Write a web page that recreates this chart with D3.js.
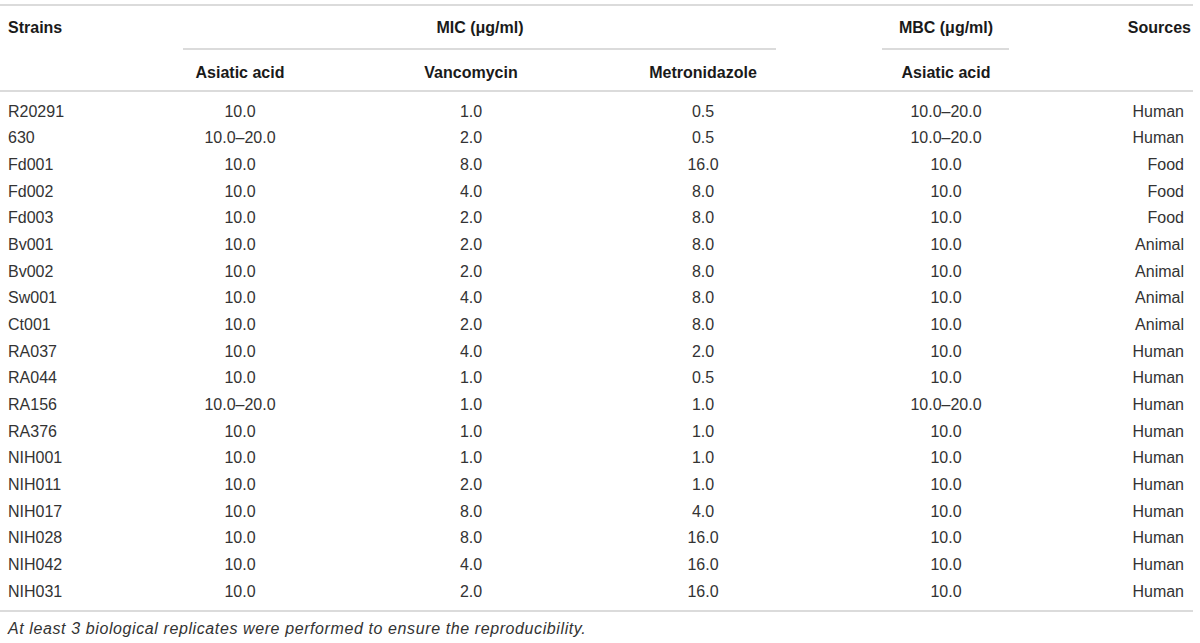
<!DOCTYPE html>
<html>
<head>
<meta charset="utf-8">
<script src="https://cdn.jsdelivr.net/npm/d3@7"></script>
<style>
  body { margin: 0; background: #fff; }
  svg text { font-family: "Liberation Sans", Arial, Helvetica, sans-serif; }
</style>
</head>
<body>
<svg id="table"></svg>
<script>
// table data
const strains = ["R20291", "630", "Fd001", "Fd002", "Fd003", "Bv001", "Bv002", "Sw001", "Ct001",
  "RA037", "RA044", "RA156", "RA376", "NIH001", "NIH011", "NIH017", "NIH028", "NIH042", "NIH031"];
const micAsiatic = ["10.0", "10.0–20.0", "10.0", "10.0", "10.0", "10.0", "10.0", "10.0", "10.0",
  "10.0", "10.0", "10.0–20.0", "10.0", "10.0", "10.0", "10.0", "10.0", "10.0", "10.0"];
const micVancomycin = ["1.0", "2.0", "8.0", "4.0", "2.0", "2.0", "2.0", "4.0", "2.0",
  "4.0", "1.0", "1.0", "1.0", "1.0", "2.0", "8.0", "8.0", "4.0", "2.0"];
const micMetronidazole = ["0.5", "0.5", "16.0", "8.0", "8.0", "8.0", "8.0", "8.0", "8.0",
  "2.0", "0.5", "1.0", "1.0", "1.0", "1.0", "4.0", "16.0", "16.0", "16.0"];
const mbcAsiatic = ["10.0–20.0", "10.0–20.0", "10.0", "10.0", "10.0", "10.0", "10.0", "10.0", "10.0",
  "10.0", "10.0", "10.0–20.0", "10.0", "10.0", "10.0", "10.0", "10.0", "10.0", "10.0"];
const sources = ["Human", "Human", "Food", "Food", "Food", "Animal", "Animal", "Animal", "Animal",
  "Human", "Human", "Human", "Human", "Human", "Human", "Human", "Human", "Human", "Human"];

const columns = ["Strains", "Asiatic acid", "Vancomycin", "Metronidazole", "MBC Asiatic acid", "Sources"];
const groupHeaders = ["MIC (\u03bcg/ml)", "MBC (\u03bcg/ml)"];
const footnote = "At least 3 biological replicates were performed to ensure the reproducibility.";

const width = 1200;
const height = 643;
const lineColor = "#cfcfcf";
const fontSize = 16;

const svg = d3.select("#table")
    .attr("width", width)
    .attr("height", height);

// rows
const y = d3.scaleBand()
    .domain(strains)
    .range([97.7, 604.3]);

// column anchors
const x = d3.scaleOrdinal()
    .domain(columns)
    .range([8, 240, 471, 703, 946, 1184]);

const anchor = d3.scaleOrdinal()
    .domain(columns)
    .range(["start", "middle", "middle", "middle", "middle", "end"]);

const rows = strains.map((s, i) => [s, micAsiatic[i], micVancomycin[i], micMetronidazole[i], mbcAsiatic[i], sources[i]]);

// horizontal rules
const hline = (y0, x0, x1) => svg.append("line")
    .attr("x1", x0).attr("x2", x1)
    .attr("y1", y0).attr("y2", y0)
    .attr("stroke", lineColor)
    .attr("stroke-width", 1.6);

hline(5, 0, 1193);
hline(91, 0, 1193);
hline(611, 0, 1193);
hline(49, 183, 776);
hline(49, 882, 1009);

// header row 1
const header = svg.append("g")
    .attr("font-size", fontSize)
    .attr("font-weight", "bold")
    .attr("fill", "#1a1a1a");

header.append("text").attr("x", x("Strains")).attr("y", 27).attr("dy", "0.35em")
    .attr("text-anchor", "start").text("Strains");
header.append("text").attr("x", 480).attr("y", 27).attr("dy", "0.35em")
    .attr("text-anchor", "middle").text(groupHeaders[0]);
header.append("text").attr("x", x("MBC Asiatic acid")).attr("y", 27).attr("dy", "0.35em")
    .attr("text-anchor", "middle").text(groupHeaders[1]);
header.append("text").attr("x", 1191).attr("y", 27).attr("dy", "0.35em")
    .attr("text-anchor", "end").text("Sources");

// header row 2
header.selectAll("text.sub")
    .data(columns.slice(1, 5))
    .enter()
    .append("text")
    .attr("class", "sub")
    .attr("x", c => x(c))
    .attr("y", 72)
    .attr("dy", "0.35em")
    .attr("text-anchor", "middle")
    .text(c => c.replace("MBC ", ""));

// body
const body = svg.append("g")
    .attr("font-size", fontSize)
    .attr("fill", "#333");

const row = body.selectAll("g")
    .data(rows)
    .enter()
    .append("g")
    .attr("transform", d => "translate(0," + (y(d[0]) + y.bandwidth() / 2) + ")");

row.selectAll("text")
    .data(d => d.map((v, j) => ({ col: columns[j], v: v })))
    .enter()
    .append("text")
    .attr("x", d => x(d.col))
    .attr("dy", "0.35em")
    .attr("text-anchor", d => anchor(d.col))
    .text(d => d.v);

// footnote
svg.append("text")
    .attr("x", 8)
    .attr("y", 628)
    .attr("dy", "0.35em")
    .attr("font-size", fontSize)
    .attr("font-style", "italic")
    .attr("letter-spacing", 0.6)
    .attr("fill", "#333")
    .text(footnote);
</script>
</body>
</html>
